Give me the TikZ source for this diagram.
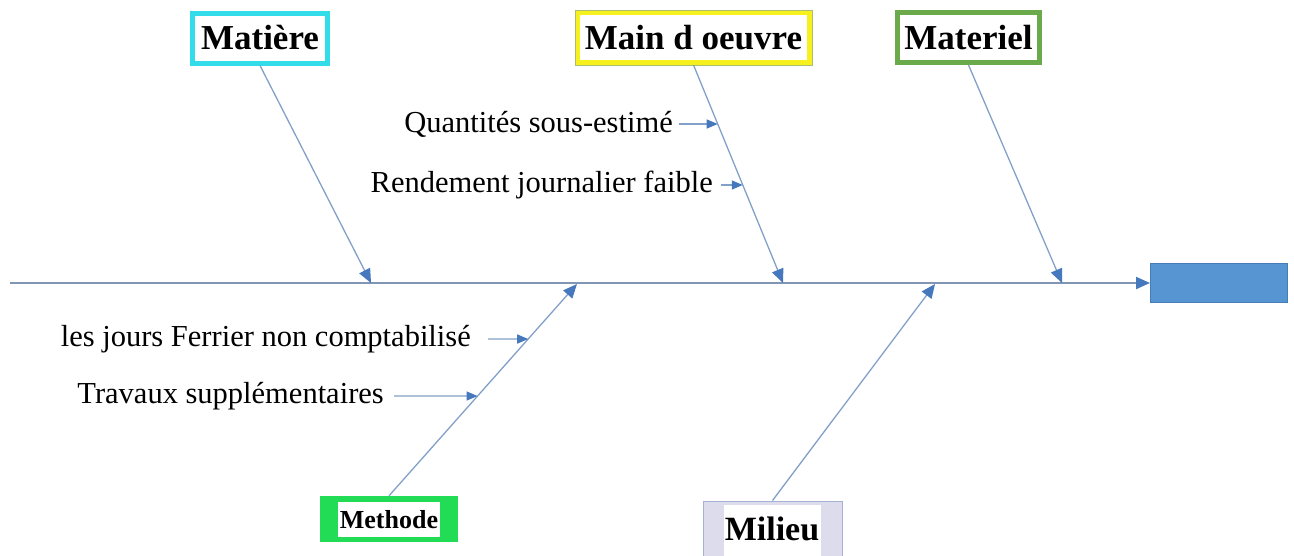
\documentclass[tikz,border=0pt]{standalone}
\usepackage{fontspec}
\setmainfont{Liberation Serif}
\usetikzlibrary{arrows.meta}

\definecolor{spinecol}{RGB}{128,150,180}
\definecolor{bonecol}{RGB}{130,160,200}
\definecolor{tipcol}{RGB}{70,120,190}
\definecolor{effectfill}{RGB}{86,148,210}
\definecolor{effectdraw}{RGB}{70,125,185}
\definecolor{cyanframe}{RGB}{50,220,232}
\definecolor{yellowframe}{RGB}{245,240,30}
\definecolor{oliveline}{RGB}{170,190,110}
\definecolor{greenframe}{RGB}{106,170,75}
\definecolor{methgreen}{RGB}{35,220,85}
\definecolor{lavfill}{RGB}{220,220,236}
\definecolor{lavline}{RGB}{165,178,210}

\tikzset{
  cat/.style={font=\fontsize{35}{40}\selectfont\bfseries, fill=white, inner sep=0pt, line width=5pt},
  cause/.style={font=\fontsize{30.5}{34}\selectfont, anchor=east, inner sep=0pt},
  bone/.style={draw=bonecol, line width=1.3pt, -{Triangle[length=14pt,width=12pt,color=tipcol,fill=tipcol]}},
  smallbone/.style={draw=bonecol, line width=1.3pt, -{Triangle[length=11pt,width=9pt,color=tipcol,fill=tipcol]}},
  spine/.style={draw=spinecol, line width=2pt, -{Triangle[length=14pt,width=12pt,color=tipcol,fill=tipcol]}}
}

\begin{document}
\begin{tikzpicture}[x=1pt,y=-1pt]
\useasboundingbox (0,0) rectangle (1294,555);

% effect box and spine
\node (effect) [fill=effectfill, draw=effectdraw, line width=1pt, minimum width=137pt, minimum height=39pt, inner sep=0pt] at (1219,283) {};
\coordinate (spineStart) at (10,283);
\draw[spine] (spineStart) -- (effect.west);

% category boxes above the spine
\node (matiere) [cat, draw=cyanframe, minimum width=135pt, minimum height=50pt] at (260,38) {Matière};
\node (mainoeuvre) [cat, draw=yellowframe, minimum width=232pt, minimum height=50pt] at (693.5,37.5) {Main d oeuvre};
\draw[oliveline, line width=0.8pt] (mainoeuvre.north west) rectangle (mainoeuvre.south east);
\node (materiel) [cat, draw=greenframe, minimum width=142pt, minimum height=50pt] at (968.5,37.5) {Materiel};

% category boxes below the spine
\node (methode) [fill=methgreen, minimum width=138pt, minimum height=46pt, inner sep=0pt] at (389,519) {};
\node (methodeIn) [fill=white, minimum width=102pt, minimum height=35pt, inner sep=0pt,
  font=\fontsize{26}{30}\selectfont\bfseries] at (389,519.5) {Methode};
\node (milieu) [fill=lavfill, draw=lavline, line width=1pt, minimum width=139pt, minimum height=60pt, inner sep=0pt] at (772.5,531) {};
\node (milieuIn) [fill=white, minimum width=97pt, minimum height=56pt, inner sep=0pt] at (772,533) {};
\node (milieuText) [font=\fontsize{34}{40}\selectfont\bfseries, inner sep=0pt, anchor=base] at (772,540) {Milieu};

% points where the bones meet the spine
\coordinate (matiereEnd) at (371,283);
\coordinate (mainEnd) at (783,283);
\coordinate (materielEnd) at (1062,283);
\coordinate (methodeEnd) at (577,284);
\coordinate (milieuEnd) at (935,284);

\draw[bone] (matiere.south) -- (matiereEnd);
\draw[bone] (mainoeuvre.south) -- (mainEnd);
\draw[bone] (materiel.south) -- (materielEnd);
\draw[bone] (methode.north) -- (methodeEnd);
\draw[bone] (milieu.north) -- (milieuEnd);

% sub-causes of Main d oeuvre
\coordinate (qTip) at (intersection of mainoeuvre.south--mainEnd and 0,124--100,124);
\coordinate (rTip) at (intersection of mainoeuvre.south--mainEnd and 0,185--100,185);
\coordinate (qStart) at (679,124);
\coordinate (rStart) at (721,185);
\node (qText) [cause] at (673,124) {Quantités sous-estimé};
\node (rText) [cause] at (713,185) {Rendement journalier faible};
\draw[smallbone] (qStart) -- (qTip);
\draw[smallbone] (rStart) -- (rTip);

% sub-causes of Methode
\coordinate (jTip) at (intersection of methode.north--methodeEnd and 0,339--100,339);
\coordinate (tTip) at (intersection of methode.north--methodeEnd and 0,396--100,396);
\coordinate (jStart) at (488,339);
\coordinate (tStart) at (394,396);
\node (jText) [cause] at (471,339) {les jours Ferrier non comptabilisé};
\node (tText) [cause] at (384,396) {Travaux supplémentaires};
\draw[smallbone] (jStart) -- (jTip);
\draw[smallbone] (tStart) -- (tTip);
\end{tikzpicture}
\end{document}
